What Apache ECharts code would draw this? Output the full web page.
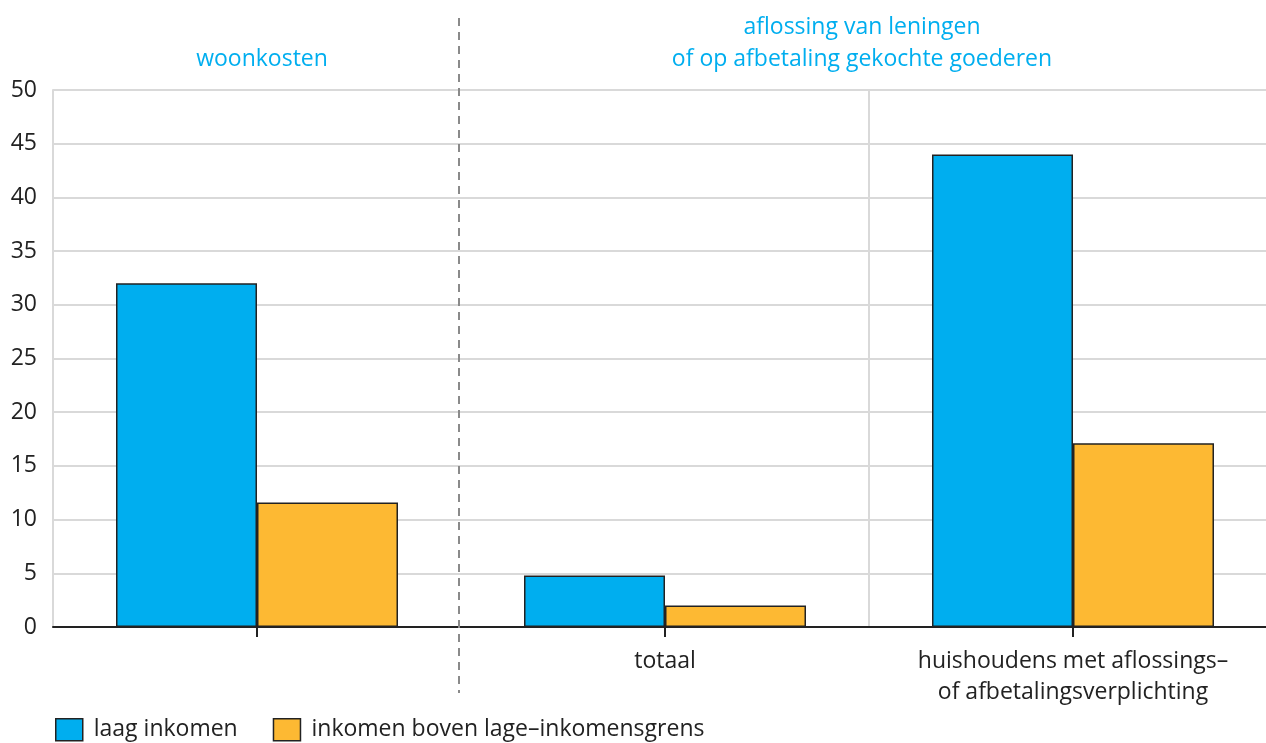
<!DOCTYPE html>
<html><head><meta charset="utf-8">
<script src="https://cdn.jsdelivr.net/npm/echarts@6/dist/echarts.min.js"></script>
<style>html,body{margin:0;padding:0;background:#fff;overflow:hidden}#c{width:1266px;height:743px}</style>
</head><body><div id="c"></div>
<script>
const categories = ['woonkosten', 'totaal', 'huishoudens met aflossings–\nof afbetalingsverplichting'];
const laagInkomen = [32.0, 4.8, 44.0];
const bovenGrens = [11.6, 2.0, 17.1];
const seriesNames = ['laag inkomen', 'inkomen boven lage–inkomensgrens'];
const groupTitles = ['woonkosten', 'aflossing van leningen\nof op afbetaling gekochte goederen'];
const yTicks = [0, 5, 10, 15, 20, 25, 30, 35, 40, 45, 50];

const FONT = 'Open Sans';
const FS = 23;
const chart = echarts.init(document.getElementById('c'), null, {renderer: 'canvas'});
const option = {
  animation: false,
  textStyle: {fontFamily: FONT},
  grid: {left: 53, width: 1224, top: 90, height: 537, containLabel: false, outerBoundsMode: 'none'},
  legend: {
    left: 50, top: 713, itemWidth: 27, itemHeight: 22, itemGap: 35,
    textStyle: {fontSize: FS, color: '#222', fontFamily: FONT, padding: [0, 0, 0, 6]},
    data: seriesNames.map(n => ({name: n, icon: 'rect'})),
    itemStyle: {borderColor: '#222', borderWidth: 1.5}
  },
  xAxis: {
    type: 'category', data: categories, boundaryGap: true,
    axisLine: {lineStyle: {color: '#222', width: 2}},
    axisTick: {show: true, alignWithLabel: true, length: 10, lineStyle: {color: '#222', width: 2}},
    axisLabel: {
      margin: 19, fontSize: FS, color: '#222', lineHeight: 31, fontFamily: FONT,
      formatter: (v, i) => i === 0 ? '' : v
    }
  },
  yAxis: {
    type: 'value', min: yTicks[0], max: yTicks[yTicks.length - 1], interval: 5,
    axisLine: {show: true, lineStyle: {color: '#d9d9d9', width: 2}},
    axisTick: {show: false},
    splitLine: {lineStyle: {color: '#d9d9d9', width: 2}},
    axisLabel: {margin: 16, fontSize: FS, color: '#222', fontFamily: FONT}
  },
  series: [
    {name: seriesNames[0], type: 'bar', data: laagInkomen, barWidth: 141, barGap: '0%',
     itemStyle: {color: '#00aeef', borderColor: '#222', borderWidth: 1.5}},
    {name: seriesNames[1], type: 'bar', data: bovenGrens, barWidth: 141, barGap: '0%',
     itemStyle: {color: '#fdb933', borderColor: '#222', borderWidth: 1.5}}
  ]
};
chart.setOption(option);

// separators and group headers from axis positions
const cx = categories.map(c => chart.convertToPixel({xAxisIndex: 0}, c));
const y0 = chart.convertToPixel({yAxisIndex: 0}, yTicks[0]);
const yTop = chart.convertToPixel({yAxisIndex: 0}, yTicks[yTicks.length - 1]);
const sep1 = (cx[0] + cx[1]) / 2 - 2;
const sep2 = (cx[1] + cx[2]) / 2;
chart.setOption({
  graphic: [
    {type: 'line', shape: {x1: sep1, y1: 18, x2: sep1, y2: 693},
     style: {stroke: '#8a8a8a', lineWidth: 2, lineDash: [8, 6]}, z: 10},
    {type: 'line', shape: {x1: sep2, y1: yTop, x2: sep2, y2: y0},
     style: {stroke: '#d9d9d9', lineWidth: 2}, z: 0},
    {type: 'text', x: cx[0] + 5, y: 59,
     style: {text: groupTitles[0], fill: '#00aeef', font: FS + 'px "' + FONT + '"', align: 'center', verticalAlign: 'middle'}},
    {type: 'text', x: sep2 - 7, y: 43,
     style: {text: groupTitles[1], fill: '#00aeef', font: FS + 'px "' + FONT + '"', align: 'center', verticalAlign: 'middle', lineHeight: 32}}
  ]
});
</script></body></html>
